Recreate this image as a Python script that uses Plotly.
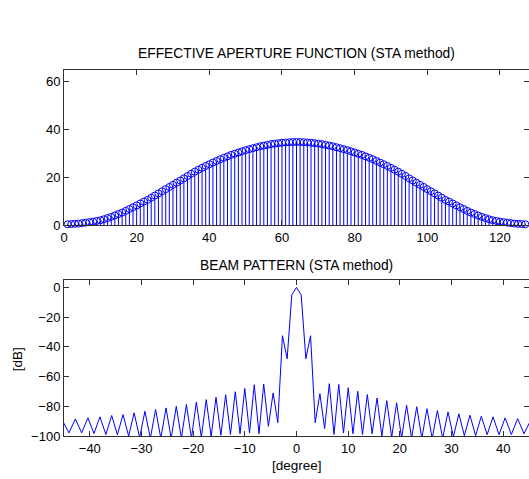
import plotly.graph_objects as go

# ---------------- data ----------------
element_index = list(range(1, 128))
aperture_values = [
    0.3, 0.4, 0.5, 0.6, 0.8, 1.0, 1.2, 1.4, 1.7, 2.0,
    2.4, 2.9, 3.4, 4.0, 4.6, 5.2, 5.9, 6.7, 7.4, 8.2,
    9.0, 9.8, 10.5, 11.4, 12.3, 13.2, 14.1, 15.0, 15.9, 16.8,
    17.7, 18.6, 19.5, 20.5, 21.4, 22.3, 23.1, 23.9, 24.7, 25.4,
    26.1, 26.8, 27.5, 28.1, 28.7, 29.3, 29.8, 30.3, 30.8, 31.3,
    31.7, 32.1, 32.5, 32.9, 33.2, 33.5, 33.8, 34.0, 34.2, 34.4,
    34.5, 34.6, 34.7, 34.7,
    34.7, 34.6, 34.5, 34.4, 34.2, 34.0, 33.8, 33.5, 33.2, 32.9,
    32.5, 32.1, 31.7, 31.3, 30.8, 30.3, 29.8, 29.3, 28.7, 28.1,
    27.5, 26.8, 26.1, 25.4, 24.7, 23.9, 23.1, 22.3, 21.4, 20.5,
    19.5, 18.6, 17.7, 16.8, 15.9, 15.0, 14.1, 13.2, 12.3, 11.4,
    10.5, 9.8, 9.0, 8.2, 7.4, 6.7, 5.9, 5.2, 4.6, 4.0,
    3.4, 2.9, 2.4, 2.0, 1.7, 1.4, 1.2, 1.0, 0.8, 0.6,
    0.5, 0.4, 0.3,
]

beam_angle_deg = [
    -45.32, -44.04, -42.80, -41.58, -40.38, -39.20, -38.04, -36.90, -35.77, -34.67,
    -33.57, -32.49, -31.43, -30.37, -29.33, -28.29, -27.27, -26.26, -25.25, -24.26,
    -23.27, -22.28, -21.31, -20.34, -19.38, -18.42, -17.47, -16.52, -15.58, -14.64,
    -13.71, -12.78, -11.85, -10.93, -10.01, -9.09, -8.18, -7.26, -6.35, -5.44,
    -4.53, -3.62, -2.72, -1.81, -0.91, 0.0,
    0.91, 1.81, 2.72, 3.62, 4.53, 5.44, 6.35, 7.26, 8.18, 9.09,
    10.01, 10.93, 11.85, 12.78, 13.71, 14.64, 15.58, 16.52, 17.47, 18.42,
    19.38, 20.34, 21.31, 22.28, 23.27, 24.26, 25.25, 26.26, 27.27, 28.29,
    29.33, 30.37, 31.43, 32.49, 33.57, 34.67, 35.77, 36.90, 38.04, 39.20,
    40.38, 41.58, 42.80, 44.04, 45.32,
]
beam_db = [
    -89.5, -97.9, -88.5, -97.9, -87.8, -98.3, -87.1, -99.0, -86.2, -99.2,
    -85.6, -100.0, -84.4, -101.0, -83.3, -101.5, -82.2, -101.5, -81.1, -101.5,
    -80.0, -101.5, -78.8, -101.5, -77.1, -101.0, -75.5, -100.5, -73.9, -99.5,
    -72.2, -99.0, -70.2, -98.5, -68.0, -98.0, -65.5, -98.5, -65.0, -93.5,
    -71.0, -91.0, -32.5, -48.0, -5.0, 0.0,
    -5.0, -48.0, -32.5, -91.0, -71.5, -95.0, -64.8, -99.0, -65.3, -98.0,
    -67.5, -98.5, -69.9, -99.0, -72.1, -98.5, -74.4, -100.0, -76.2, -101.0,
    -77.7, -101.5, -79.3, -101.5, -80.3, -101.5, -81.6, -101.5, -82.9, -101.5,
    -83.8, -100.5, -85.1, -99.8, -86.0, -99.8, -86.7, -99.1, -87.1, -99.1,
    -87.8, -99.0, -88.3, -98.5, -89.5,
]

top_xticks = [0, 20, 40, 60, 80, 100, 120]
top_yticks = [0, 20, 40, 60]
bot_xticks = [-40, -30, -20, -10, 0, 10, 20, 30, 40]
bot_yticks = [0, -20, -40, -60, -80, -100]

# ---------------- figure ----------------
W, H = 529, 479
BLUE = "#0000FF"
FONT = "Liberation Sans, Arial, sans-serif"

stem_x, stem_y = [], []
for xv, yv in zip(element_index, aperture_values):
    stem_x += [xv, xv, None]
    stem_y += [0, yv, None]

fig = go.Figure()
fig.add_trace(go.Scatter(x=stem_x, y=stem_y, mode="lines",
                         line=dict(color=BLUE, width=1),
                         xaxis="x", yaxis="y", hoverinfo="skip"))
fig.add_trace(go.Scatter(x=element_index, y=aperture_values, mode="markers",
                         marker=dict(symbol="circle-open", size=7, color=BLUE,
                                     line=dict(width=1, color=BLUE)),
                         cliponaxis=False, xaxis="x", yaxis="y"))
fig.add_trace(go.Scatter(x=beam_angle_deg, y=beam_db, mode="lines",
                         line=dict(color=BLUE, width=1),
                         xaxis="x2", yaxis="y2"))

axis_common = dict(showline=True, linecolor="#303030", linewidth=1, mirror="ticks",
                   ticks="inside", ticklen=5, tickcolor="#303030", tickwidth=1,
                   showgrid=False, zeroline=False, automargin=False,
                   tickfont=dict(family=FONT, size=13, color="#000000"))

fig.update_layout(
    template="none",
    width=W, height=H,
    margin=dict(l=0, r=0, t=0, b=0, autoexpand=False),
    paper_bgcolor="white", plot_bgcolor="white",
    showlegend=False,
    font=dict(family=FONT, size=13, color="#000000"),
    xaxis=dict(domain=[64 / W, 1.0], range=[0, 128], tickvals=top_xticks,
               anchor="y", **axis_common),
    yaxis=dict(domain=[(H - 225) / H, (H - 69.5) / H], range=[0, 65], tickvals=top_yticks,
               anchor="x", **axis_common),
    xaxis2=dict(domain=[64 / W, 1.0], range=[-45, 45], tickvals=bot_xticks,
                anchor="y2", **axis_common),
    yaxis2=dict(domain=[(H - 436) / H, (H - 280) / H], range=[-100, 5], tickvals=bot_yticks,
                anchor="x2", **axis_common),
    annotations=[
        dict(text="EFFECTIVE APERTURE FUNCTION (STA method)", x=296.5 / W, y=(H - 53.5) / H,
             xref="paper", yref="paper", showarrow=False, xanchor="center", yanchor="middle",
             font=dict(family=FONT, size=13.8)),
        dict(text="BEAM PATTERN (STA method)", x=296.5 / W, y=(H - 265.3) / H,
             xref="paper", yref="paper", showarrow=False, xanchor="center", yanchor="middle",
             font=dict(family=FONT, size=13.8)),
        dict(text="[dB]", x=17.5 / W, y=(H - 359.8) / H, textangle=-90,
             xref="paper", yref="paper", showarrow=False, xanchor="center", yanchor="middle",
             font=dict(family=FONT, size=13.5)),
        dict(text="[degree]", x=296.5 / W, y=(H - 465) / H,
             xref="paper", yref="paper", showarrow=False, xanchor="center", yanchor="middle",
             font=dict(family=FONT, size=13.5)),
    ],
)

fig.write_html(
    "out.html",
    config={"displayModeBar": False},
    post_script="document.body.style.margin='0';document.body.style.overflow='hidden';",
)
